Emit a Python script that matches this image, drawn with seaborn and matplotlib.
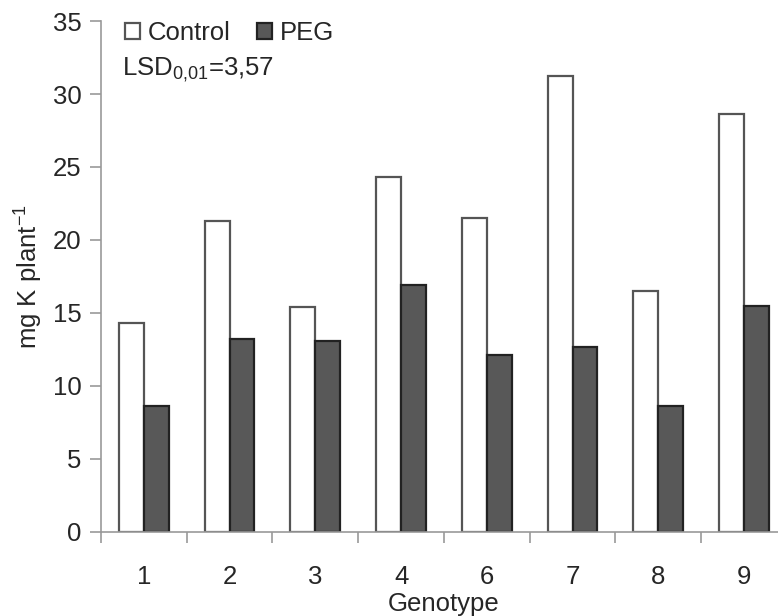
import pandas as pd
import numpy as np
import matplotlib
matplotlib.use("Agg")
import matplotlib.pyplot as plt
import seaborn as sns
from matplotlib.ticker import FixedLocator

# values
genotypes = ["1", "2", "3", "4", "6", "7", "8", "9"]
control = [14.3, 21.3, 15.4, 24.3, 21.5, 31.2, 16.5, 28.6]
peg = [8.6, 13.2, 13.1, 16.9, 12.1, 12.7, 8.6, 15.5]
treatments = ["Control", "PEG"]

df = pd.DataFrame({
    "Genotype": genotypes * 2,
    "Treatment": ["Control"] * len(genotypes) + ["PEG"] * len(genotypes),
    "K": control + peg,
})

sns.set_style("ticks")
plt.rcParams["font.family"] = ["Liberation Sans", "DejaVu Sans"]

fig = plt.figure(figsize=(7.78, 6.16), dpi=100)
ax = fig.add_axes([0.1298, 0.1364, 0.8817, 0.8295])

sns.barplot(data=df, x="Genotype", y="K", hue="Treatment", order=genotypes,
            hue_order=treatments, palette={"Control": "white", "PEG": "#585858"},
            width=0.58, gap=0, linewidth=1.6, edgecolor="#222222", ax=ax,
            err_kws={"linewidth": 0})

for bar in ax.patches:
    if bar.get_facecolor()[0] > 0.9:
        bar.set_edgecolor("#555555")

ax.set_xlim(-0.5, 7.5)
ax.set_ylim(0, 35)
ax.set_yticks(np.arange(0, 36, 5))
ax.tick_params(axis="y", labelsize=18.5, color="#999999", length=8, width=1.2,
               direction="out", pad=6)
ax.tick_params(axis="x", which="major", labelsize=18.5, length=0, pad=24)
ax.xaxis.set_minor_locator(FixedLocator(np.arange(-0.5, 7, 1.0)))
ax.tick_params(axis="x", which="minor", color="#999999", length=8, width=1.2, direction="out")

for side in ["top", "right"]:
    ax.spines[side].set_visible(False)
for side in ["left", "bottom"]:
    ax.spines[side].set_color("#999999")
    ax.spines[side].set_linewidth(1.2)

ax.set_xlabel("Genotype", fontsize=18.5, labelpad=2)
ax.set_ylabel(r"mg K plant$^{\mathregular{-1}}$", fontsize=18.5, labelpad=6)

handles, labels = ax.get_legend_handles_labels()
ax.legend(handles, labels, loc="upper left", bbox_to_anchor=(0.02, 1.02),
          ncol=2, frameon=False, fontsize=18.5, handlelength=0.6, handleheight=0.6,
          handletextpad=0.3, columnspacing=1.0, borderaxespad=0)

ax.text(0.03, 0.905, r"LSD$_{\mathregular{0{,}01}}$=3,57", transform=ax.transAxes,
        fontsize=18.5, va="center", ha="left")

fig.savefig("out.png", dpi=100)
